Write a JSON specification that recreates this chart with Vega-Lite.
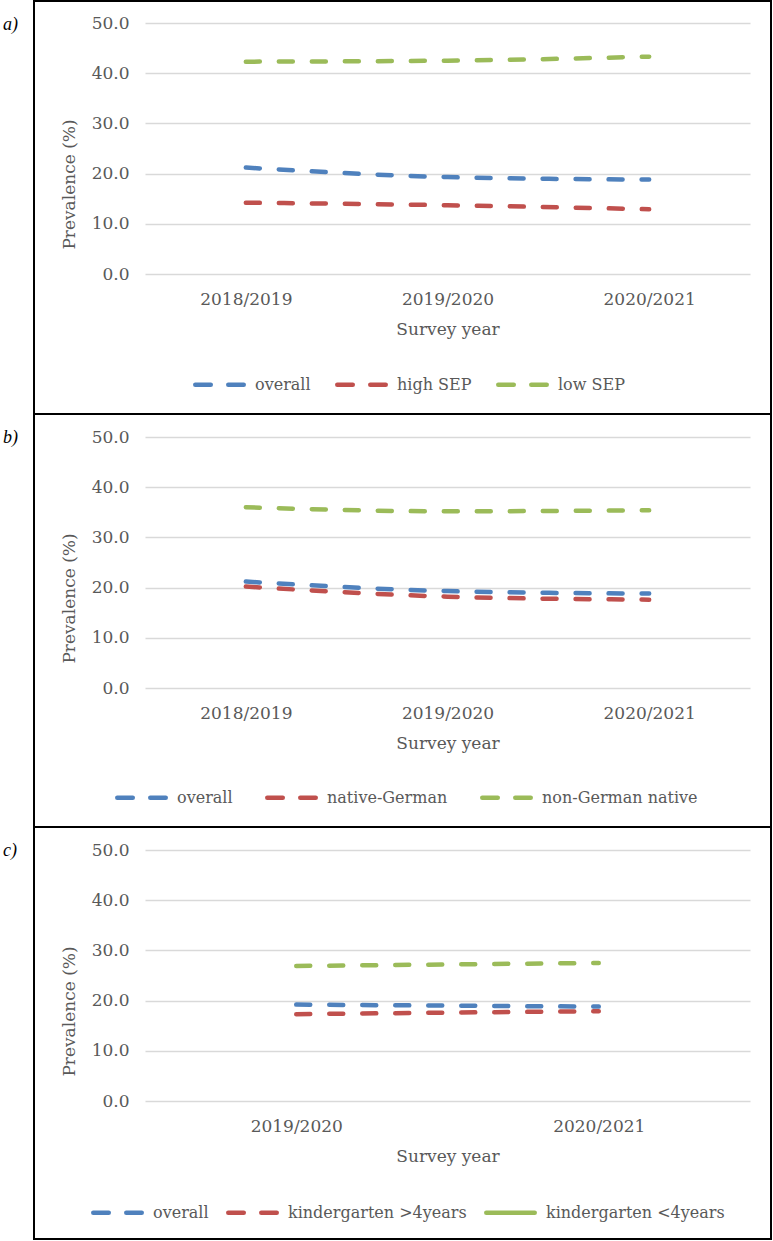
{
  "$schema": "https://vega.github.io/schema/vega-lite/v6.json",
  "background": "white",
  "padding": {"left": 2, "top": 0, "right": 2, "bottom": 1},
  "autosize": {"type": "pad"},
  "spacing": 0,
  "bounds": "flush",
  "resolve": {
    "scale": {"x": "independent", "y": "independent", "color": "independent"},
    "legend": {"color": "independent"}
  },
  "config": {
    "view": {"stroke": "black", "strokeWidth": 2},
    "font": "DejaVu Serif",
    "axis": {
      "labelFont": "DejaVu Serif", "labelFontSize": 17, "labelColor": "#595959",
      "titleFont": "DejaVu Serif", "titleFontSize": 17, "titleFontWeight": "normal", "titleColor": "#595959",
      "domain": false, "ticks": false
    },
    "legend": {
      "labelFont": "DejaVu Serif", "labelFontSize": 16, "labelColor": "#595959", "labelLimit": 400,
      "symbolType": "stroke", "symbolSize": 2350, "symbolStrokeWidth": 4.5, "symbolDash": [15.5, 17.5],
      "columnPadding": 25, "labelOffset": 9
    },
    "title": {"font": "Liberation Serif", "fontStyle": "italic", "fontWeight": "normal", "fontSize": 18, "color": "black"}
  },
  "vconcat": [
    {
      "title": {"text": "a)", "anchor": "start", "frame": "group", "orient": "top", "offset": 0, "dx": -31, "dy": 42, "baseline": "middle"},
      "width": 737,
      "height": 413,
      "data": {"values": [
        {"year": "2018/2019", "group": "overall", "prevalence": 21.2},
        {"year": "2019/2020", "group": "overall", "prevalence": 19.3},
        {"year": "2020/2021", "group": "overall", "prevalence": 18.8},
        {"year": "2018/2019", "group": "high SEP", "prevalence": 14.2},
        {"year": "2019/2020", "group": "high SEP", "prevalence": 13.7},
        {"year": "2020/2021", "group": "high SEP", "prevalence": 12.9},
        {"year": "2018/2019", "group": "low SEP", "prevalence": 42.3},
        {"year": "2019/2020", "group": "low SEP", "prevalence": 42.5},
        {"year": "2020/2021", "group": "low SEP", "prevalence": 43.3}
      ]},
      "mark": {"type": "line", "interpolate": "monotone", "strokeWidth": 4.5, "strokeDash": [14, 19], "strokeCap": "round"},
      "encoding": {
        "x": {"field": "year", "type": "ordinal", "sort": null,
          "scale": {"type": "point", "padding": 0.5, "range": [111, 716]},
          "axis": {"title": "Survey year", "labelAngle": 0, "grid": false, "offset": -140, "labelPadding": 17, "titlePadding": 14}},
        "y": {"field": "prevalence", "type": "quantitative",
          "scale": {"domain": [0, 50], "range": [273, 22], "nice": false, "zero": true},
          "axis": {"title": "Prevalence (%)", "values": [0, 10, 20, 30, 40, 50], "format": ".1f", "grid": true, "gridColor": "#D9D9D9", "gridWidth": 1.5, "offset": -111, "labelPadding": 16, "titleX": -76, "titleY": 183, "titleBaseline": "middle"}},
        "color": {"field": "group", "type": "nominal",
          "scale": {"domain": ["overall", "high SEP", "low SEP"], "range": ["#4F81BD", "#C0504D", "#9BBB59"]},
          "legend": {"title": null, "orient": "none", "legendX": 159, "legendY": 357, "direction": "horizontal", "columnPadding": 17,
            "encode": {"symbols": {"update": {"strokeCap": {"value": "round"}}}}}}
      }
    },
    {
      "title": {"text": "b)", "anchor": "start", "frame": "group", "orient": "top", "offset": 0, "dx": -31, "dy": 42, "baseline": "middle"},
      "width": 737,
      "height": 413,
      "data": {"values": [
        {"year": "2018/2019", "group": "overall", "prevalence": 21.2},
        {"year": "2019/2020", "group": "overall", "prevalence": 19.3},
        {"year": "2020/2021", "group": "overall", "prevalence": 18.8},
        {"year": "2018/2019", "group": "native-German", "prevalence": 20.2},
        {"year": "2019/2020", "group": "native-German", "prevalence": 18.2},
        {"year": "2020/2021", "group": "native-German", "prevalence": 17.6},
        {"year": "2018/2019", "group": "non-German native", "prevalence": 36.0},
        {"year": "2019/2020", "group": "non-German native", "prevalence": 35.2},
        {"year": "2020/2021", "group": "non-German native", "prevalence": 35.4}
      ]},
      "mark": {"type": "line", "interpolate": "monotone", "strokeWidth": 4.5, "strokeDash": [14, 19], "strokeCap": "round"},
      "encoding": {
        "x": {"field": "year", "type": "ordinal", "sort": null,
          "scale": {"type": "point", "padding": 0.5, "range": [111, 716]},
          "axis": {"title": "Survey year", "labelAngle": 0, "grid": false, "offset": -139, "labelPadding": 17, "titlePadding": 14}},
        "y": {"field": "prevalence", "type": "quantitative",
          "scale": {"domain": [0, 50], "range": [274, 23], "nice": false, "zero": true},
          "axis": {"title": "Prevalence (%)", "values": [0, 10, 20, 30, 40, 50], "format": ".1f", "grid": true, "gridColor": "#D9D9D9", "gridWidth": 1.5, "offset": -111, "labelPadding": 16, "titleX": -76, "titleY": 184, "titleBaseline": "middle"}},
        "color": {"field": "group", "type": "nominal",
          "scale": {"domain": ["overall", "native-German", "non-German native"], "range": ["#4F81BD", "#C0504D", "#9BBB59"]},
          "legend": {"title": null, "orient": "none", "legendX": 81, "legendY": 357, "direction": "horizontal", "columnPadding": 25,
            "encode": {"symbols": {"update": {"strokeCap": {"value": "round"}}}}}}
      }
    },
    {
      "title": {"text": "c)", "anchor": "start", "frame": "group", "orient": "top", "offset": 0, "dx": -31, "dy": 42, "baseline": "middle"},
      "width": 737,
      "height": 412,
      "data": {"values": [
        {"year": "2019/2020", "group": "overall", "prevalence": 19.2},
        {"year": "2020/2021", "group": "overall", "prevalence": 18.8},
        {"year": "2019/2020", "group": "kindergarten >4years", "prevalence": 17.3},
        {"year": "2020/2021", "group": "kindergarten >4years", "prevalence": 17.9},
        {"year": "2019/2020", "group": "kindergarten <4years", "prevalence": 26.9},
        {"year": "2020/2021", "group": "kindergarten <4years", "prevalence": 27.5}
      ]},
      "mark": {"type": "line", "interpolate": "monotone", "strokeWidth": 4.5, "strokeDash": [14, 19], "strokeCap": "round"},
      "encoding": {
        "x": {"field": "year", "type": "ordinal", "sort": null,
          "scale": {"type": "point", "padding": 0.5, "range": [111, 716]},
          "axis": {"title": "Survey year", "labelAngle": 0, "grid": false, "offset": -138, "labelPadding": 17, "titlePadding": 14}},
        "y": {"field": "prevalence", "type": "quantitative",
          "scale": {"domain": [0, 50], "range": [274, 23], "nice": false, "zero": true},
          "axis": {"title": "Prevalence (%)", "values": [0, 10, 20, 30, 40, 50], "format": ".1f", "grid": true, "gridColor": "#D9D9D9", "gridWidth": 1.5, "offset": -111, "labelPadding": 16, "titleX": -76, "titleY": 184, "titleBaseline": "middle"}},
        "color": {"field": "group", "type": "nominal",
          "scale": {"domain": ["overall", "kindergarten >4years", "kindergarten <4years"], "range": ["#4F81BD", "#C0504D", "#9BBB59"]},
          "legend": {"title": null, "orient": "none", "legendX": 57, "legendY": 359, "direction": "horizontal", "columnPadding": 10,
            "encode": {"symbols": {"update": {"strokeCap": {"value": "round"},
              "strokeDash": {"signal": "datum.value === 'kindergarten <4years' ? [1, 0] : [15.5, 17.5]"}}}}}}
      }
    }
  ]
}
